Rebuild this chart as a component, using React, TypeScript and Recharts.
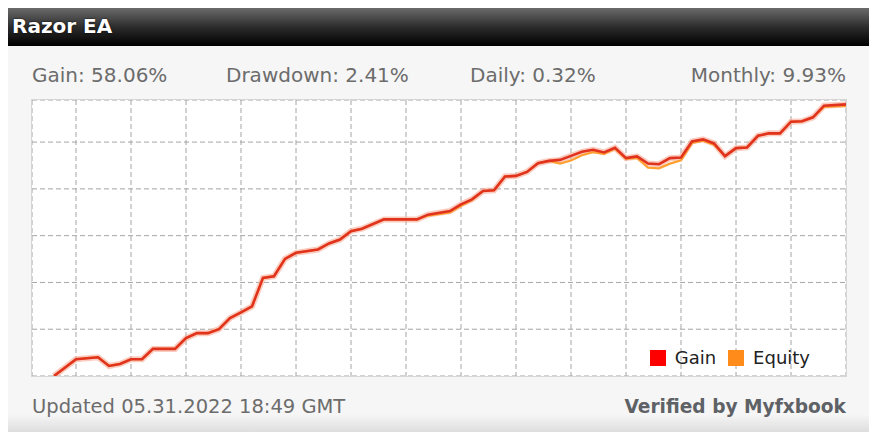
import React from "react";
import { LineChart, Line, XAxis, YAxis, CartesianGrid } from "recharts";

// day index since the start of the account
const days = [
  4, 8, 12, 14, 16, 18, 20, 22, 26, 28, 30, 32, 34, 36, 38, 40, 42, 44, 46, 48,
  52, 54, 56, 58, 60, 64, 70, 72, 76, 78, 80, 82, 84, 86, 88, 90, 92, 94, 96,
  98, 100, 102, 104, 106, 108, 110, 112, 114, 116, 118, 120, 122, 124, 126,
  128, 130, 132, 134, 136, 138, 140, 142, 144, 148,
];

const gain = [
  0, 3.58, 4.01, 2.15, 2.58, 3.58, 3.58, 5.79, 5.79, 8.09, 9.16, 9.16, 10.02,
  12.38, 13.58, 14.87, 20.97, 21.31, 25.04, 26.33, 27.04, 28.33, 29.18, 30.97,
  31.48, 33.48, 33.48, 34.49, 35.26, 36.7, 37.77, 39.55, 39.7, 42.64, 42.77,
  43.63, 45.49, 45.99, 46.2, 47.06, 47.92, 48.35, 47.79, 48.78, 46.57, 46.93,
  45.43, 45.28, 46.57, 46.72, 50.15, 50.58, 49.72, 47.0, 48.71, 48.86, 51.35,
  51.87, 51.87, 54.36, 54.44, 55.3, 57.79, 58.06,
];

const equity = [
  0, 3.58, 4.01, 2.15, 2.58, 3.58, 3.58, 5.79, 5.79, 8.09, 9.16, 9.16, 10.02,
  12.38, 13.58, 14.87, 20.97, 21.31, 25.04, 26.33, 27.04, 28.33, 29.18, 30.97,
  31.48, 33.48, 33.48, 34.3, 34.95, 36.4, 37.6, 39.55, 39.7, 42.64, 42.77,
  43.63, 45.49, 45.99, 45.4, 46.05, 47.2, 47.85, 47.5, 48.6, 46.4, 46.6,
  44.55, 44.4, 45.4, 46.1, 49.85, 50.3, 49.45, 47.0, 48.71, 48.86, 51.35,
  51.87, 51.87, 54.36, 54.44, 55.3, 57.5, 57.75,
];

const xTicks = [8, 18, 28, 38, 48, 58, 68, 78, 88, 98, 108, 118, 128, 138];
const yTicks = [10, 20, 30, 40, 50];

const stats = [
  { label: "Gain", value: "58.06%", left: 32 },
  { label: "Drawdown", value: "2.41%", left: 226 },
  { label: "Daily", value: "0.32%", left: 470 },
  { label: "Monthly", value: "9.93%", right: 31 },
];

const GAIN_COLOR = "#e0321d";
const EQUITY_COLOR = "#ffa030";

const data = days.map((d, i) => ({ day: d, gain: gain[i], equity: equity[i] }));

const font = "'DejaVu Sans', Verdana, sans-serif";

export default function App() {
  return (
    <div
      style={{
        position: "relative",
        width: 877,
        height: 440,
        margin: -8,
        background: "#fff",
        fontFamily: font,
        overflow: "hidden",
      }}
    >
      {/* panel */}
      <div
        style={{
          position: "absolute",
          left: 3,
          top: 3,
          width: 869,
          height: 432,
          border: "1px solid #a8a8a8",
          background:
            "linear-gradient(to bottom, #f6f6f6 0%, #f6f6f6 95%, #d8d8d8 100%)",
        }}
      />
      {/* header */}
      <div
        style={{
          position: "absolute",
          left: 3,
          top: 4,
          width: 874,
          height: 42,
          background: "linear-gradient(to bottom, #787878 0%, #2c2c2c 55%, #000 100%)",
          borderTopLeftRadius: 4,
        }}
      />
      <div
        style={{
          position: "absolute",
          left: 12,
          top: 14,
          color: "#fff",
          fontWeight: "bold",
          fontSize: 20,
          lineHeight: "24px",
          textShadow: "0 0 2px #000",
        }}
      >
        Razor EA
      </div>

      {/* stats row */}
      {stats.map((s) => (
        <div
          key={s.label}
          style={{
            position: "absolute",
            left: s.left,
            right: s.right,
            top: 63,
            fontSize: 20,
            lineHeight: "24px",
            color: "#6c6c6c",
            whiteSpace: "nowrap",
          }}
        >
          {s.label}: {s.value}
        </div>
      ))}

      {/* plot */}
      <div
        style={{
          position: "absolute",
          left: 31,
          top: 99,
          width: 814,
          height: 276,
          border: "1px solid #d6d6d6",
          background: "#fff",
        }}
      >
        <LineChart
          width={814}
          height={276}
          data={data}
          margin={{ top: 0, right: 0, bottom: 0, left: 0 }}
        >
          <CartesianGrid stroke="#a4a4a4" strokeDasharray="5 3" />
          <XAxis
            dataKey="day"
            type="number"
            domain={[0, 148]}
            ticks={xTicks}
            hide
          />
          <YAxis type="number" domain={[0, 59]} ticks={yTicks} hide />
          <Line
            dataKey="gain"
            type="linear"
            stroke="#f7a994"
            strokeOpacity={0.6}
            strokeWidth={6}
            dot={false}
            legendType="none"
            isAnimationActive={false}
          />
          <Line
            dataKey="equity"
            type="linear"
            stroke={EQUITY_COLOR}
            strokeWidth={2.2}
            dot={false}
            isAnimationActive={false}
          />
          <Line
            dataKey="gain"
            type="linear"
            stroke={GAIN_COLOR}
            strokeWidth={2.6}
            dot={false}
            isAnimationActive={false}
          />
        </LineChart>

        {/* legend */}
        <div
          style={{
            position: "absolute",
            right: 36,
            top: 247,
            display: "flex",
            alignItems: "center",
            fontSize: 18,
            lineHeight: "22px",
            color: "#222",
          }}
        >
          <span style={{ width: 16, height: 16, background: "#ff0000", marginRight: 9 }} />
          <span style={{ marginRight: 12 }}>Gain</span>
          <span style={{ width: 16, height: 16, background: "#ff8c1a", marginRight: 9 }} />
          <span>Equity</span>
        </div>
      </div>

      {/* footer */}
      <div
        style={{
          position: "absolute",
          left: 32,
          top: 395,
          fontSize: 19.5,
          lineHeight: "24px",
          color: "#6c6c6c",
        }}
      >
        Updated 05.31.2022 18:49 GMT
      </div>
      <div
        style={{
          position: "absolute",
          right: 31,
          top: 396,
          fontSize: 18.6,
          lineHeight: "22px",
          fontWeight: "bold",
          color: "#5e6266",
        }}
      >
        Verified by Myfxbook
      </div>
    </div>
  );
}
